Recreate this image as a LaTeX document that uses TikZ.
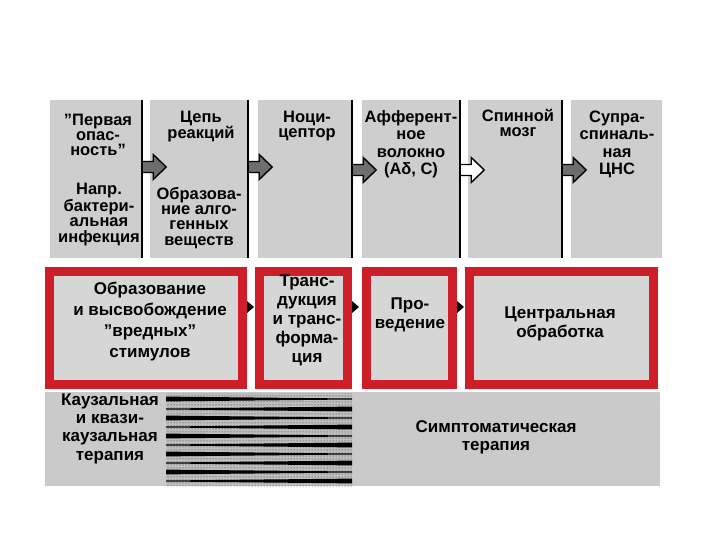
\documentclass[tikz,border=0pt]{standalone}
\usepackage{fontspec}
\setmainfont{Liberation Sans}
\usetikzlibrary{calc,patterns}
\definecolor{colgray}{RGB}{206,206,206}
\definecolor{boxgray}{RGB}{214,214,214}
\definecolor{bandgray}{RGB}{202,202,202}
\definecolor{boxred}{RGB}{206,30,42}
\definecolor{arrgray}{RGB}{110,110,110}
\newcommand\blockarr[3][arrgray]{%
  \draw[fill=#1,line width=1.4pt,line join=miter] ([yshift=#3]#2.east) ++(0,5.5pt) -- ++(11pt,0) -- ++(0,7pt)
    -- ++(13pt,-12.5pt) -- ++(-13pt,-12.5pt) -- ++(0,7pt) -- ++(-11pt,0) -- cycle;}
\newcommand\smalltri[2]{%
  \fill ([yshift=#2]#1.east) ++(0,6pt) -- ++(7pt,-6pt) -- ++(-7pt,-6pt) -- cycle;}
\begin{document}
\begin{tikzpicture}[x=1pt,y=-1pt,
  col/.style={fill=colgray, inner sep=0pt, minimum height=158pt},
  vline/.style={line width=1.8pt, black},
  redbox/.style={draw=boxred, line width=9pt, fill=boxgray, minimum height=113pt, inner sep=0pt},
  ttxt/.style={font=\fontsize{16.5}{15.3}\selectfont\bfseries, align=center, inner sep=0pt, anchor=base},
  ttxtw/.style={font=\fontsize{16.5}{17.5}\selectfont\bfseries, align=center, inner sep=0pt, anchor=base},
  btxt/.style={font=\fontsize{17}{20.7}\selectfont\bfseries, align=center, inner sep=0pt, anchor=base},
]
\useasboundingbox (0,0) rectangle (720,540);
\fill[white] (0,0) rectangle (720,540);

% top columns
\node[col, minimum width=92pt] (c1) at (96,179) {};
\node[col, minimum width=98pt] (c2) at (199,179) {};
\node[col, minimum width=94pt] (c3) at (305,179) {};
\node[col, minimum width=98pt] (c4) at (411,179) {};
\node[col, minimum width=94pt] (c5) at (515,179) {};
\node[col, minimum width=91pt] (c6) at (616.5,179) {};
\foreach \c in {c1,c2,c3,c4,c5}{\draw[vline] (\c.north east) -- (\c.south east);}

\blockarr{c1}{12pt}
\blockarr{c2}{12pt}
\blockarr{c3}{9pt}
\blockarr[white]{c4}{9pt}
\blockarr{c5}{9pt}

% top texts (anchor = baseline of last line)
\node[ttxt] (t1a) at (98,156) {"Первая\\опас-\\ность"};
\node[ttxt] (t1b) at (99,242) {Напр.\\бактери-\\альная\\инфекция};
\node[ttxt] (t2a) at (201,139) {Цепь\\реакций};
\node[ttxt] (t2b) at (199,245) {Образова-\\ние алго-\\генных\\веществ};
\node[ttxt] (t3a) at (307,138) {Ноци-\\цептор};
\node[ttxtw] (t4a) at (411,175) {Афферент-\\ное\\волокно\\(Aδ, C)};
\node[ttxt] (t5a) at (518,137) {Спинной\\мозг};
\node[ttxtw] (t6a) at (617,175) {Супра-\\спиналь-\\ная\\ЦНС};

% red boxes
\node[redbox, minimum width=193pt] (b1) at (146,328) {};
\node[redbox, minimum width=88pt] (b2) at (303.5,328) {};
\node[redbox, minimum width=86pt] (b3) at (409.5,328) {};
\node[redbox, minimum width=184pt] (b4) at (561.5,328) {};
\smalltri{b1}{21pt}
\smalltri{b2}{21pt}
\smalltri{b3}{21pt}

\node[btxt] (tb1) at (150,357) {Образование\\и высвобождение\\"вредных"\\стимулов};
\node[btxt, font=\fontsize{17}{19}\selectfont\bfseries] (tb2) at (307,362) {Транс-\\дукция\\и транс-\\форма-\\ция};
\node[btxt, font=\fontsize{17}{18.5}\selectfont\bfseries] (tb3) at (410,328) {Про-\\ведение};
\node[btxt, font=\fontsize{17}{19}\selectfont\bfseries] (tb4) at (560,337) {Центральная\\обработка};

% bottom band
\fill[bandgray] (45,392) rectangle (660,486);
\fill[gray!50] (166,393) rectangle (352,486);
\fill[pattern=dots, pattern color=black!85] (166,393) rectangle (352,486);
\foreach \y [count=\i] in {399,409,418,427,436,445,454,463,472,481}{
  \ifodd\i
    \fill (166,\y-2.4) -- (352,\y-0.5) -- (352,\y+0.5) -- (166,\y+2.4) -- cycle;
  \else
    \fill (166,\y-0.5) -- (352,\y-2.4) -- (352,\y+2.4) -- (166,\y+0.5) -- cycle;
  \fi
}
\node[btxt, font=\fontsize{17}{18.3}\selectfont\bfseries] (tl) at (110,460) {Каузальная\\и квази-\\каузальная\\терапия};
\node[btxt, font=\fontsize{17}{18}\selectfont\bfseries] (tr) at (496,450) {Симптоматическая\\терапия};
\end{tikzpicture}
\end{document}
